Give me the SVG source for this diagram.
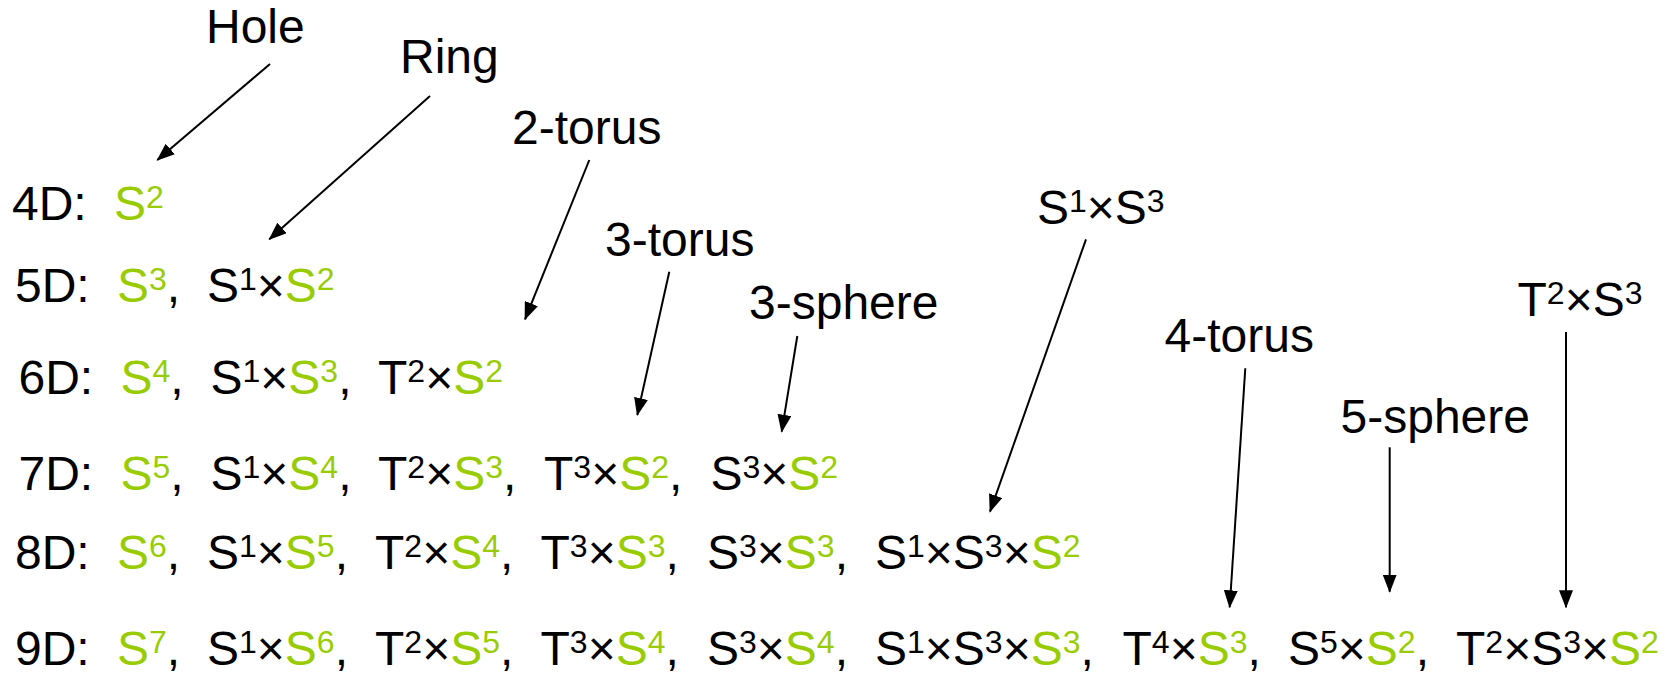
<svg xmlns="http://www.w3.org/2000/svg" width="1672" height="674" viewBox="0 0 1672 674">
<style>
.t{font-family:"Liberation Sans",Arial,sans-serif;font-size:48px;fill:#000}
.g{fill:#99CC00}
.s{font-size:32px}
.c line{stroke:#000;stroke-width:2;fill:none}
</style>
<defs>
<marker id="ah" viewBox="0 0 18 14" refX="17" refY="7" markerWidth="18" markerHeight="14" markerUnits="userSpaceOnUse" orient="auto">
<path d="M0,0 L18,7 L0,14 z" fill="#000"/>
</marker>
</defs>
<rect width="1672" height="674" fill="#fff"/>
<g id="connectors" class="c">
<line x1="270" y1="64" x2="157.3" y2="160" marker-end="url(#ah)"/>
<line x1="430" y1="96" x2="269.3" y2="239.3" marker-end="url(#ah)"/>
<line x1="589.3" y1="160" x2="525" y2="319.3" marker-end="url(#ah)"/>
<line x1="669.3" y1="271.7" x2="637.3" y2="415" marker-end="url(#ah)"/>
<line x1="797.3" y1="336" x2="781.7" y2="431.7" marker-end="url(#ah)"/>
<line x1="1086" y1="239.3" x2="990" y2="511.7" marker-end="url(#ah)"/>
<line x1="1245.3" y1="368.3" x2="1229.7" y2="607.3" marker-end="url(#ah)"/>
<line x1="1389.7" y1="447.3" x2="1389.7" y2="591.7" marker-end="url(#ah)"/>
<line x1="1566" y1="332" x2="1566" y2="607.3" marker-end="url(#ah)"/>
</g>
<g id="label-hole"><text class="t" x="206" y="43">Hole</text></g>
<g id="label-ring"><text class="t" x="400" y="73">Ring</text></g>
<g id="label-2torus"><text class="t" x="512" y="144">2-torus</text></g>
<g id="label-3torus"><text class="t" x="605" y="256">3-torus</text></g>
<g id="label-3sphere"><text class="t" x="749" y="319">3-sphere</text></g>
<g id="label-s1s3"><text class="t"><tspan x="1037" y="224">S</tspan><tspan y="212" class="s">1</tspan><tspan y="224">×S</tspan><tspan y="212" class="s">3</tspan></text></g>
<g id="label-4torus"><text class="t" x="1164.5" y="352">4-torus</text></g>
<g id="label-5sphere"><text class="t" x="1340.5" y="433">5-sphere</text></g>
<g id="label-t2s3"><text class="t"><tspan x="1517.5" y="316">T</tspan><tspan y="304" class="s">2</tspan><tspan y="316">×S</tspan><tspan y="304" class="s">3</tspan></text></g>

<g id="row-4d"><text class="t"><tspan x="12" y="220">4D:</tspan><tspan x="114" y="220" class="g">S</tspan><tspan y="208" class="g s">2</tspan></text></g>

<g id="row-5d"><text class="t"><tspan x="15" y="302">5D:</tspan><tspan x="117" y="302" class="g">S</tspan><tspan y="290" class="g s">3</tspan><tspan y="302">,</tspan><tspan x="207" y="302">S</tspan><tspan y="290" class="s">1</tspan><tspan y="302">×</tspan><tspan class="g">S</tspan><tspan y="290" class="g s">2</tspan></text></g>

<g id="row-6d"><text class="t"><tspan x="18.5" y="394">6D:</tspan><tspan x="120.5" y="394" class="g">S</tspan><tspan y="382" class="g s">4</tspan><tspan y="394">,</tspan><tspan x="210.5" y="394">S</tspan><tspan y="382" class="s">1</tspan><tspan y="394">×</tspan><tspan class="g">S</tspan><tspan y="382" class="g s">3</tspan><tspan y="394">,</tspan><tspan x="378" y="394">T</tspan><tspan y="382" class="s">2</tspan><tspan y="394">×</tspan><tspan class="g">S</tspan><tspan y="382" class="g s">2</tspan></text></g>

<g id="row-7d"><text class="t"><tspan x="18.5" y="490">7D:</tspan><tspan x="120.5" y="490" class="g">S</tspan><tspan y="478" class="g s">5</tspan><tspan y="490">,</tspan><tspan x="210.5" y="490">S</tspan><tspan y="478" class="s">1</tspan><tspan y="490">×</tspan><tspan class="g">S</tspan><tspan y="478" class="g s">4</tspan><tspan y="490">,</tspan><tspan x="378" y="490">T</tspan><tspan y="478" class="s">2</tspan><tspan y="490">×</tspan><tspan class="g">S</tspan><tspan y="478" class="g s">3</tspan><tspan y="490">,</tspan><tspan x="544" y="490">T</tspan><tspan y="478" class="s">3</tspan><tspan y="490">×</tspan><tspan class="g">S</tspan><tspan y="478" class="g s">2</tspan><tspan y="490">,</tspan><tspan x="710.5" y="490">S</tspan><tspan y="478" class="s">3</tspan><tspan y="490">×</tspan><tspan class="g">S</tspan><tspan y="478" class="g s">2</tspan></text></g>

<g id="row-8d"><text class="t"><tspan x="15" y="569">8D:</tspan><tspan x="117" y="569" class="g">S</tspan><tspan y="557" class="g s">6</tspan><tspan y="569">,</tspan><tspan x="207" y="569">S</tspan><tspan y="557" class="s">1</tspan><tspan y="569">×</tspan><tspan class="g">S</tspan><tspan y="557" class="g s">5</tspan><tspan y="569">,</tspan><tspan x="375" y="569">T</tspan><tspan y="557" class="s">2</tspan><tspan y="569">×</tspan><tspan class="g">S</tspan><tspan y="557" class="g s">4</tspan><tspan y="569">,</tspan><tspan x="540.5" y="569">T</tspan><tspan y="557" class="s">3</tspan><tspan y="569">×</tspan><tspan class="g">S</tspan><tspan y="557" class="g s">3</tspan><tspan y="569">,</tspan><tspan x="707" y="569">S</tspan><tspan y="557" class="s">3</tspan><tspan y="569">×</tspan><tspan class="g">S</tspan><tspan y="557" class="g s">3</tspan><tspan y="569">,</tspan><tspan x="875" y="569">S</tspan><tspan y="557" class="s">1</tspan><tspan y="569">×S</tspan><tspan y="557" class="s">3</tspan><tspan y="569">×</tspan><tspan class="g">S</tspan><tspan y="557" class="g s">2</tspan></text></g>

<g id="row-9d"><text class="t"><tspan x="15" y="665">9D:</tspan><tspan x="117" y="665" class="g">S</tspan><tspan y="653" class="g s">7</tspan><tspan y="665">,</tspan><tspan x="207" y="665">S</tspan><tspan y="653" class="s">1</tspan><tspan y="665">×</tspan><tspan class="g">S</tspan><tspan y="653" class="g s">6</tspan><tspan y="665">,</tspan><tspan x="375" y="665">T</tspan><tspan y="653" class="s">2</tspan><tspan y="665">×</tspan><tspan class="g">S</tspan><tspan y="653" class="g s">5</tspan><tspan y="665">,</tspan><tspan x="540.5" y="665">T</tspan><tspan y="653" class="s">3</tspan><tspan y="665">×</tspan><tspan class="g">S</tspan><tspan y="653" class="g s">4</tspan><tspan y="665">,</tspan><tspan x="707" y="665">S</tspan><tspan y="653" class="s">3</tspan><tspan y="665">×</tspan><tspan class="g">S</tspan><tspan y="653" class="g s">4</tspan><tspan y="665">,</tspan><tspan x="875" y="665">S</tspan><tspan y="653" class="s">1</tspan><tspan y="665">×S</tspan><tspan y="653" class="s">3</tspan><tspan y="665">×</tspan><tspan class="g">S</tspan><tspan y="653" class="g s">3</tspan><tspan y="665">,</tspan><tspan x="1122.5" y="665">T</tspan><tspan y="653" class="s">4</tspan><tspan y="665">×</tspan><tspan class="g">S</tspan><tspan y="653" class="g s">3</tspan><tspan y="665">,</tspan><tspan x="1288" y="665">S</tspan><tspan y="653" class="s">5</tspan><tspan y="665">×</tspan><tspan class="g">S</tspan><tspan y="653" class="g s">2</tspan><tspan y="665">,</tspan><tspan x="1456" y="665">T</tspan><tspan y="653" class="s">2</tspan><tspan y="665">×S</tspan><tspan y="653" class="s">3</tspan><tspan y="665">×</tspan><tspan class="g">S</tspan><tspan y="653" class="g s">2</tspan></text></g>
</svg>
